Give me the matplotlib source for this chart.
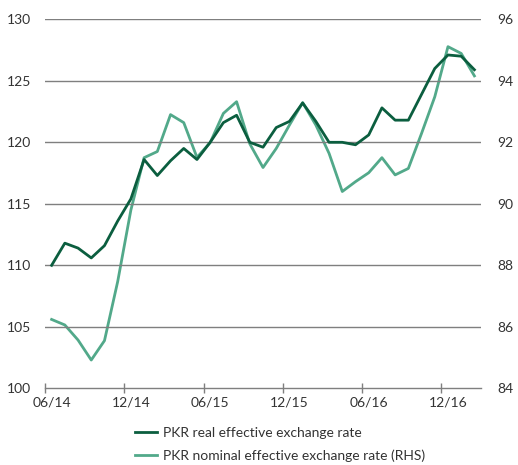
import numpy as np
import matplotlib
matplotlib.use("Agg")
import matplotlib.pyplot as plt

# -------------------------
# Data (monthly, 06/14 .. 02/17)
# -------------------------
tick_labels = ["06/14", "12/14", "06/15", "12/15", "06/16", "12/16"]

reer = [110.0, 111.8, 111.4, 110.6, 111.6, 113.6, 115.4, 118.6, 117.3, 118.5,
        119.5, 118.6, 120.0, 121.6, 122.2, 120.0, 119.6, 121.2, 121.7, 123.2,
        121.7, 120.0, 120.0, 119.8, 120.6, 122.8, 121.8, 121.8, 123.9, 126.0,
        127.1, 127.0, 125.9]

neer = [86.24, 86.06, 85.57, 84.92, 85.55, 87.47, 89.8, 91.5, 91.7, 92.9,
        92.64, 91.51, 91.99, 92.94, 93.32, 91.95, 91.18, 91.8, 92.56, 93.29,
        92.56, 91.64, 90.4, 90.72, 91.01, 91.5, 90.94, 91.15, 92.29, 93.48,
        95.11, 94.89, 94.16]

DARK = "#0b5e3f"
LIGHT = "#52a98a"
GRID = "#7f7f7f"
TEXT = "#333333"

plt.rcParams["font.family"] = ["Lato", "DejaVu Sans"]
plt.rcParams["font.size"] = 10

fig = plt.figure(figsize=(5.18, 4.65), dpi=100)
ax = fig.add_axes([0.0869, 0.1649, 0.8417, 0.7936])
ax2 = ax.twinx()

x = np.arange(len(reer))

# gridlines (shared between both scales)
for v in range(105, 131, 5):
    ax.axhline(v, color=GRID, lw=1.0, zorder=0)

ax2.plot(x, neer, color=LIGHT, lw=2.0, label="PKR nominal effective exchange rate (RHS)")
ax.plot(x, reer, color=DARK, lw=2.0, label="PKR real effective exchange rate")
ax.set_zorder(ax2.get_zorder() + 1)
ax.patch.set_visible(False)

ax.set_xlim(-0.5, len(reer) - 0.5)
ax.set_ylim(100, 130)
ax2.set_ylim(84, 96)
ax.set_yticks(range(100, 131, 5))
ax2.set_yticks(range(84, 97, 2))

# category axis: labels at category centers, marks between categories
ax.set_xticks(np.arange(0, 31, 6))
ax.set_xticklabels(tick_labels)
ax.set_xticks(np.arange(-0.5, 31, 6), minor=True)
ax.tick_params(axis="x", which="major", length=0, pad=6, colors=TEXT)
ax.tick_params(axis="x", which="minor", length=7, direction="inout", color=GRID, width=1.0)

ax.tick_params(axis="y", length=0, pad=10, colors=TEXT)
ax2.tick_params(axis="y", length=0, pad=12, colors=TEXT)

for a in (ax, ax2):
    for s in ("top", "left", "right", "bottom"):
        a.spines[s].set_visible(False)
ax.spines["bottom"].set_visible(True)
ax.spines["bottom"].set_color(GRID)
ax.spines["bottom"].set_linewidth(1.0)

h1, l1 = ax.get_legend_handles_labels()
h2, l2 = ax2.get_legend_handles_labels()
fig.legend(h1 + h2, l1 + l2, loc="lower left", bbox_to_anchor=(0.237, -0.02),
           frameon=False, handlelength=1.6, handletextpad=0.4, labelspacing=0.72,
           labelcolor=TEXT)

fig.savefig("out.png", dpi=100)
